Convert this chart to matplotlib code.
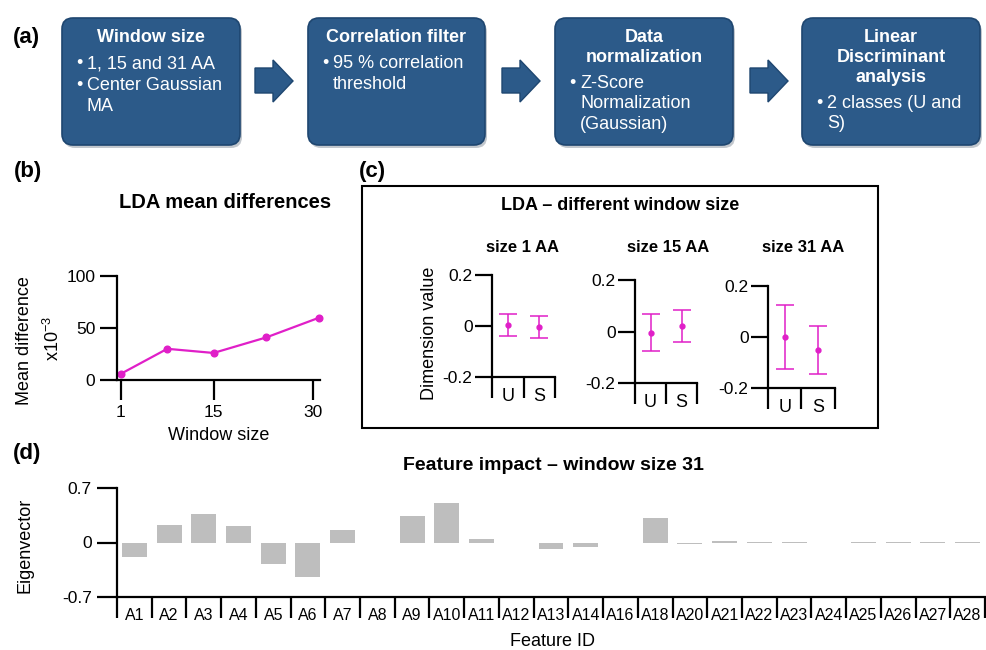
import matplotlib
matplotlib.use("Agg")
import matplotlib.pyplot as plt
from matplotlib.patches import FancyBboxPatch, Polygon, Rectangle

plt.rcParams['font.family'] = ['Liberation Sans', 'DejaVu Sans']
plt.rcParams['mathtext.fontset'] = 'custom'
plt.rcParams['mathtext.rm'] = 'Liberation Sans'
plt.rcParams['mathtext.default'] = 'regular'

# ---------------- data ----------------
flow_titles = ["Window size", "Correlation filter", "Data\nnormalization",
               "Linear\nDiscriminant\nanalysis"]
flow_bullets = [["1, 15 and 31 AA", "Center Gaussian\nMA"],
                ["95 % correlation\nthreshold"],
                ["Z-Score\nNormalization\n(Gaussian)"],
                ["2 classes (U and\nS)"]]

window_sizes = [1, 8, 15, 23, 31]
mean_diff = [6, 30, 26, 41, 60]
b_xticks = [1, 15, 30]
b_yticks = [0, 50, 100]

classes = ["U", "S"]
lda_titles = ["size 1 AA", "size 15 AA", "size 31 AA"]
lda_means = [[0.003, -0.005], [-0.004, 0.022], [0.0, -0.050]]
lda_err = [[0.044, 0.043], [0.072, 0.063], [0.126, 0.094]]
c_yticks = [-0.2, 0, 0.2]

features = ["A1", "A2", "A3", "A4", "A5", "A6", "A7", "A8", "A9", "A10", "A11",
            "A12", "A13", "A14", "A16", "A18", "A20", "A21", "A22", "A23", "A24",
            "A25", "A26", "A27", "A28"]
eigen = [-0.18, 0.23, 0.36, 0.21, -0.28, -0.44, 0.16, -0.01, 0.34, 0.51, 0.04,
         -0.01, -0.087, -0.06, -0.01, 0.31, -0.025, 0.015, 0.01, 0.01, 0.0,
         0.008, 0.008, 0.005, 0.008]
d_yticks = [-0.7, 0, 0.7]

# ---------------- layout ----------------
W, H = 987, 650
fig = plt.figure(figsize=(W / 100, H / 100), dpi=100)
bg = fig.add_axes([0, 0, 1, 1])
bg.set_xlim(0, W)
bg.set_ylim(H, 0)
bg.axis('off')

def ax_px(x0, y0, x1, y1):
    return fig.add_axes([x0 / W, 1 - y1 / H, (x1 - x0) / W, (y1 - y0) / H])

MAG = '#E01FC8'
BLUE = '#2C5A89'
LW = 1.6

# ---------------- (a) flow chart ----------------
boxes = [(62, 240), (308, 485), (555, 733), (802, 980)]
box_top, box_bot = 18, 145
for i, (x0, x1) in enumerate(boxes):
    sh = FancyBboxPatch((x0 + 2, box_top + 3), x1 - x0, box_bot - box_top,
                        boxstyle="round,pad=0,rounding_size=11",
                        fc='#9aa3ad', ec='none', alpha=0.6, zorder=1)
    bg.add_patch(sh)
    p = FancyBboxPatch((x0, box_top), x1 - x0, box_bot - box_top,
                       boxstyle="round,pad=0,rounding_size=11",
                       fc=BLUE, ec='#1E4670', lw=1.2, zorder=2)
    bg.add_patch(p)
    tl = flow_titles[i].split("\n")
    cx = (x0 + x1) / 2
    y = 38
    for line in tl:
        bg.text(cx, y, line, color='white', fontsize=13, fontweight='bold',
                ha='center', va='center', zorder=3)
        y += 19.5
    y += 6.5
    for b in flow_bullets[i]:
        lines = b.split("\n")
        bg.text(x0 + 14, y, "•", color='white', fontsize=13, ha='left',
                va='center', zorder=3)
        for line in lines:
            bg.text(x0 + 25, y, line, color='white', fontsize=13, ha='left',
                    va='center', zorder=3)
            y += 20.5
        y += 1.5

arrows = [(255, 293), (502, 540), (750, 788)]
for x0, x1 in arrows:
    xh = x0 + 18
    pts = [(x0, 68), (xh, 68), (xh, 60), (x1, 81), (xh, 102), (xh, 93), (x0, 93)]
    bg.add_patch(Polygon(pts, closed=True, fc=BLUE, ec='#1E4670', lw=1, zorder=2))

# panel labels
for lab, x, y in [("(a)", 26, 37), ("(b)", 28, 172), ("(c)", 372, 171), ("(d)", 27, 453)]:
    bg.text(x, y, lab, fontsize=16, fontweight='bold', ha='center', va='center')

def style(ax):
    for s in ['top', 'right']:
        ax.spines[s].set_visible(False)
    for s in ['left', 'bottom']:
        ax.spines[s].set_linewidth(LW)
    ax.patch.set_alpha(0)

# ---------------- (b) ----------------
axb = ax_px(117, 276, 320, 380)
style(axb)
axb.plot(window_sizes, mean_diff, color=MAG, lw=1.6, marker='o', ms=4.8, clip_on=False)
axb.set_xlim(0.4, 31.1)
axb.set_ylim(0, 100)
axb.set_xticks(b_xticks)
axb.set_yticks(b_yticks)
axb.tick_params(axis='x', direction='out', length=14.5, width=LW, labelsize=12.5, pad=3.5)
axb.tick_params(axis='y', direction='out', length=12, width=LW, labelsize=12.5, pad=3.5)
bg.text(225, 202, "LDA mean differences", fontsize=14.5, fontweight='bold',
        ha='center', va='center')
bg.text(25, 341, "Mean difference", fontsize=13, rotation=90, ha='center', va='center')
bg.text(53, 338, "x10$^{-3}$", fontsize=13, rotation=90, ha='center', va='center')
bg.text(219, 436, "Window size", fontsize=13, ha='center', va='center')

# ---------------- (c) ----------------
bg.add_patch(Rectangle((362, 186), 878 - 362, 428 - 186, fc='none', ec='black', lw=1.5))
bg.text(620, 206, "LDA – different window size", fontsize=13, fontweight='bold',
        ha='center', va='center')
c_geom = [(492, 275, 555, 377), (635, 280, 697, 383), (768, 286, 835, 388)]
c_title_x = [523, 668, 803]
for k, (x0, y0, x1, y1) in enumerate(c_geom):
    ax = ax_px(x0, y0, x1, y1)
    style(ax)
    ax.errorbar([1, 2], lda_means[k], yerr=lda_err[k], fmt='o', color=MAG,
                ms=3.5, elinewidth=1.1, capsize=6.5, capthick=1.1, clip_on=False)
    ax.set_xlim(0.5, 2.5)
    ax.set_ylim(-0.2, 0.2)
    ax.set_yticks(c_yticks)
    ax.set_yticklabels(["-0.2", "0", "0.2"])
    ax.set_xticks([0.5, 1.5, 2.5])
    ax.set_xticklabels([])
    ax.set_xticks([1, 2], minor=True)
    ax.set_xticklabels(classes, minor=True)
    ax.tick_params(axis='x', which='major', direction='out', length=15, width=LW)
    ax.tick_params(axis='x', which='minor', length=0, labelsize=13, pad=8)
    ax.tick_params(axis='y', direction='out', length=12, width=LW, labelsize=12.5, pad=2)
    bg.text(c_title_x[k], 248, lda_titles[k], fontsize=12, fontweight='bold',
            ha='center', va='center')
bg.text(430, 333, "Dimension value", fontsize=13, rotation=90, ha='center', va='center')

# ---------------- (d) ----------------
axd = ax_px(117, 488, 985, 597)
style(axd)
xs = list(range(1, len(features) + 1))
axd.bar(xs, eigen, width=0.72, color='#BEBEBE', edgecolor='none')
axd.set_xlim(0.5, len(features) + 0.5)
axd.set_ylim(-0.7, 0.7)
axd.set_yticks(d_yticks)
axd.set_yticklabels(["-0.7", "0", "0.7"])
axd.set_xticks([i + 0.5 for i in range(len(features) + 1)])
axd.set_xticklabels([])
axd.set_xticks(xs, minor=True)
axd.set_xticklabels(features, minor=True)
axd.tick_params(axis='x', which='major', direction='out', length=15, width=LW)
axd.tick_params(axis='x', which='minor', length=0, labelsize=11.5, pad=8)
axd.tick_params(axis='y', direction='out', length=14.5, width=LW, labelsize=12.5, pad=3.5)
bg.text(553, 465, "Feature impact – window size 31", fontsize=14, fontweight='bold',
        ha='center', va='center')
bg.text(25, 545, "Eigenvector", fontsize=13, rotation=90, ha='center', va='center')
bg.text(553, 641, "Feature ID", fontsize=13, ha='center', va='center')

fig.savefig("out.png", dpi=100)
